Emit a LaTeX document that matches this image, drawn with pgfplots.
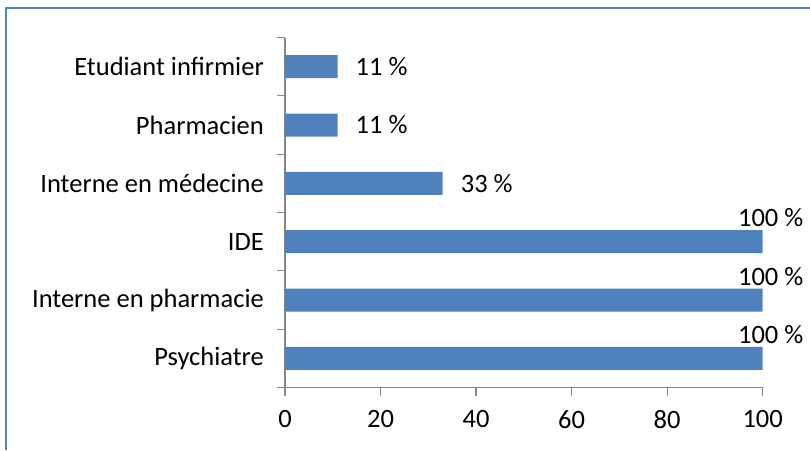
\documentclass[border=0pt]{standalone}
\usepackage{pgfplots}
\pgfplotsset{compat=1.18}
\usepackage{fontspec}
\setmainfont{Carlito}
\definecolor{barblue}{HTML}{4F81BD}
\definecolor{axisgray}{HTML}{868686}
\definecolor{framblue}{HTML}{4F81BD}
\begin{document}
\begin{tikzpicture}
\begin{axis}[
    scale only axis,
    width=477.7pt, height=350pt,
    xbar, bar width=23pt, bar shift=0pt,
    xmin=0, xmax=100,
    ymin=-0.5, ymax=5.5,
    clip=false,
    axis x line*=bottom, axis y line*=left,
    axis line style={axisgray, line width=1.2pt},
    tick align=outside,
    major tick length=8pt, minor tick length=8pt,
    xtick={0,20,...,100},
    x tick style={axisgray, line width=1.2pt},
    ytick={0,...,5},
    yticklabels={Psychiatre,Interne en pharmacie,IDE,Interne en médecine,Pharmacien,Etudiant infirmier},
    minor ytick={-0.5,0.5,...,5.5},
    major y tick style={draw=none},
    minor y tick style={axisgray, line width=1.2pt},
    font=\fontsize{26.5}{31}\selectfont,
    /pgf/number format/assume math mode=true,
    xticklabel style={inner sep=0pt, yshift=-15pt},
    yticklabel style={inner sep=0pt, xshift=-13pt},
    point meta=x,
    nodes near coords={\pgfmathprintnumber{\pgfplotspointmeta} \%},
]
\addplot[fill=barblue, draw=none,
    nodes near coords style={anchor=west, inner sep=0pt, xshift=18pt, black}]
    coordinates {(11,5) (11,4) (33,3)};
\addplot[fill=barblue, draw=none,
    nodes near coords style={anchor=base, inner sep=0pt, xshift=8pt, yshift=15pt, black}]
    coordinates {(100,2) (100,1) (100,0)};
\coordinate (ll) at (rel axis cs:0,0);
\coordinate (ur) at (rel axis cs:1,1);
\end{axis}
\pgfresetboundingbox
\path[use as bounding box] ([xshift=-285pt,yshift=-62.5pt]ll) rectangle ([xshift=47.3pt,yshift=37.5pt]ur);
\draw[framblue, line width=2pt] ([xshift=-279pt,yshift=-62.5pt]ll) -- ([xshift=-279pt,yshift=29.5pt]ur -| ll) -- ([xshift=47.3pt,yshift=29.5pt]ur);
\end{tikzpicture}
\end{document}
